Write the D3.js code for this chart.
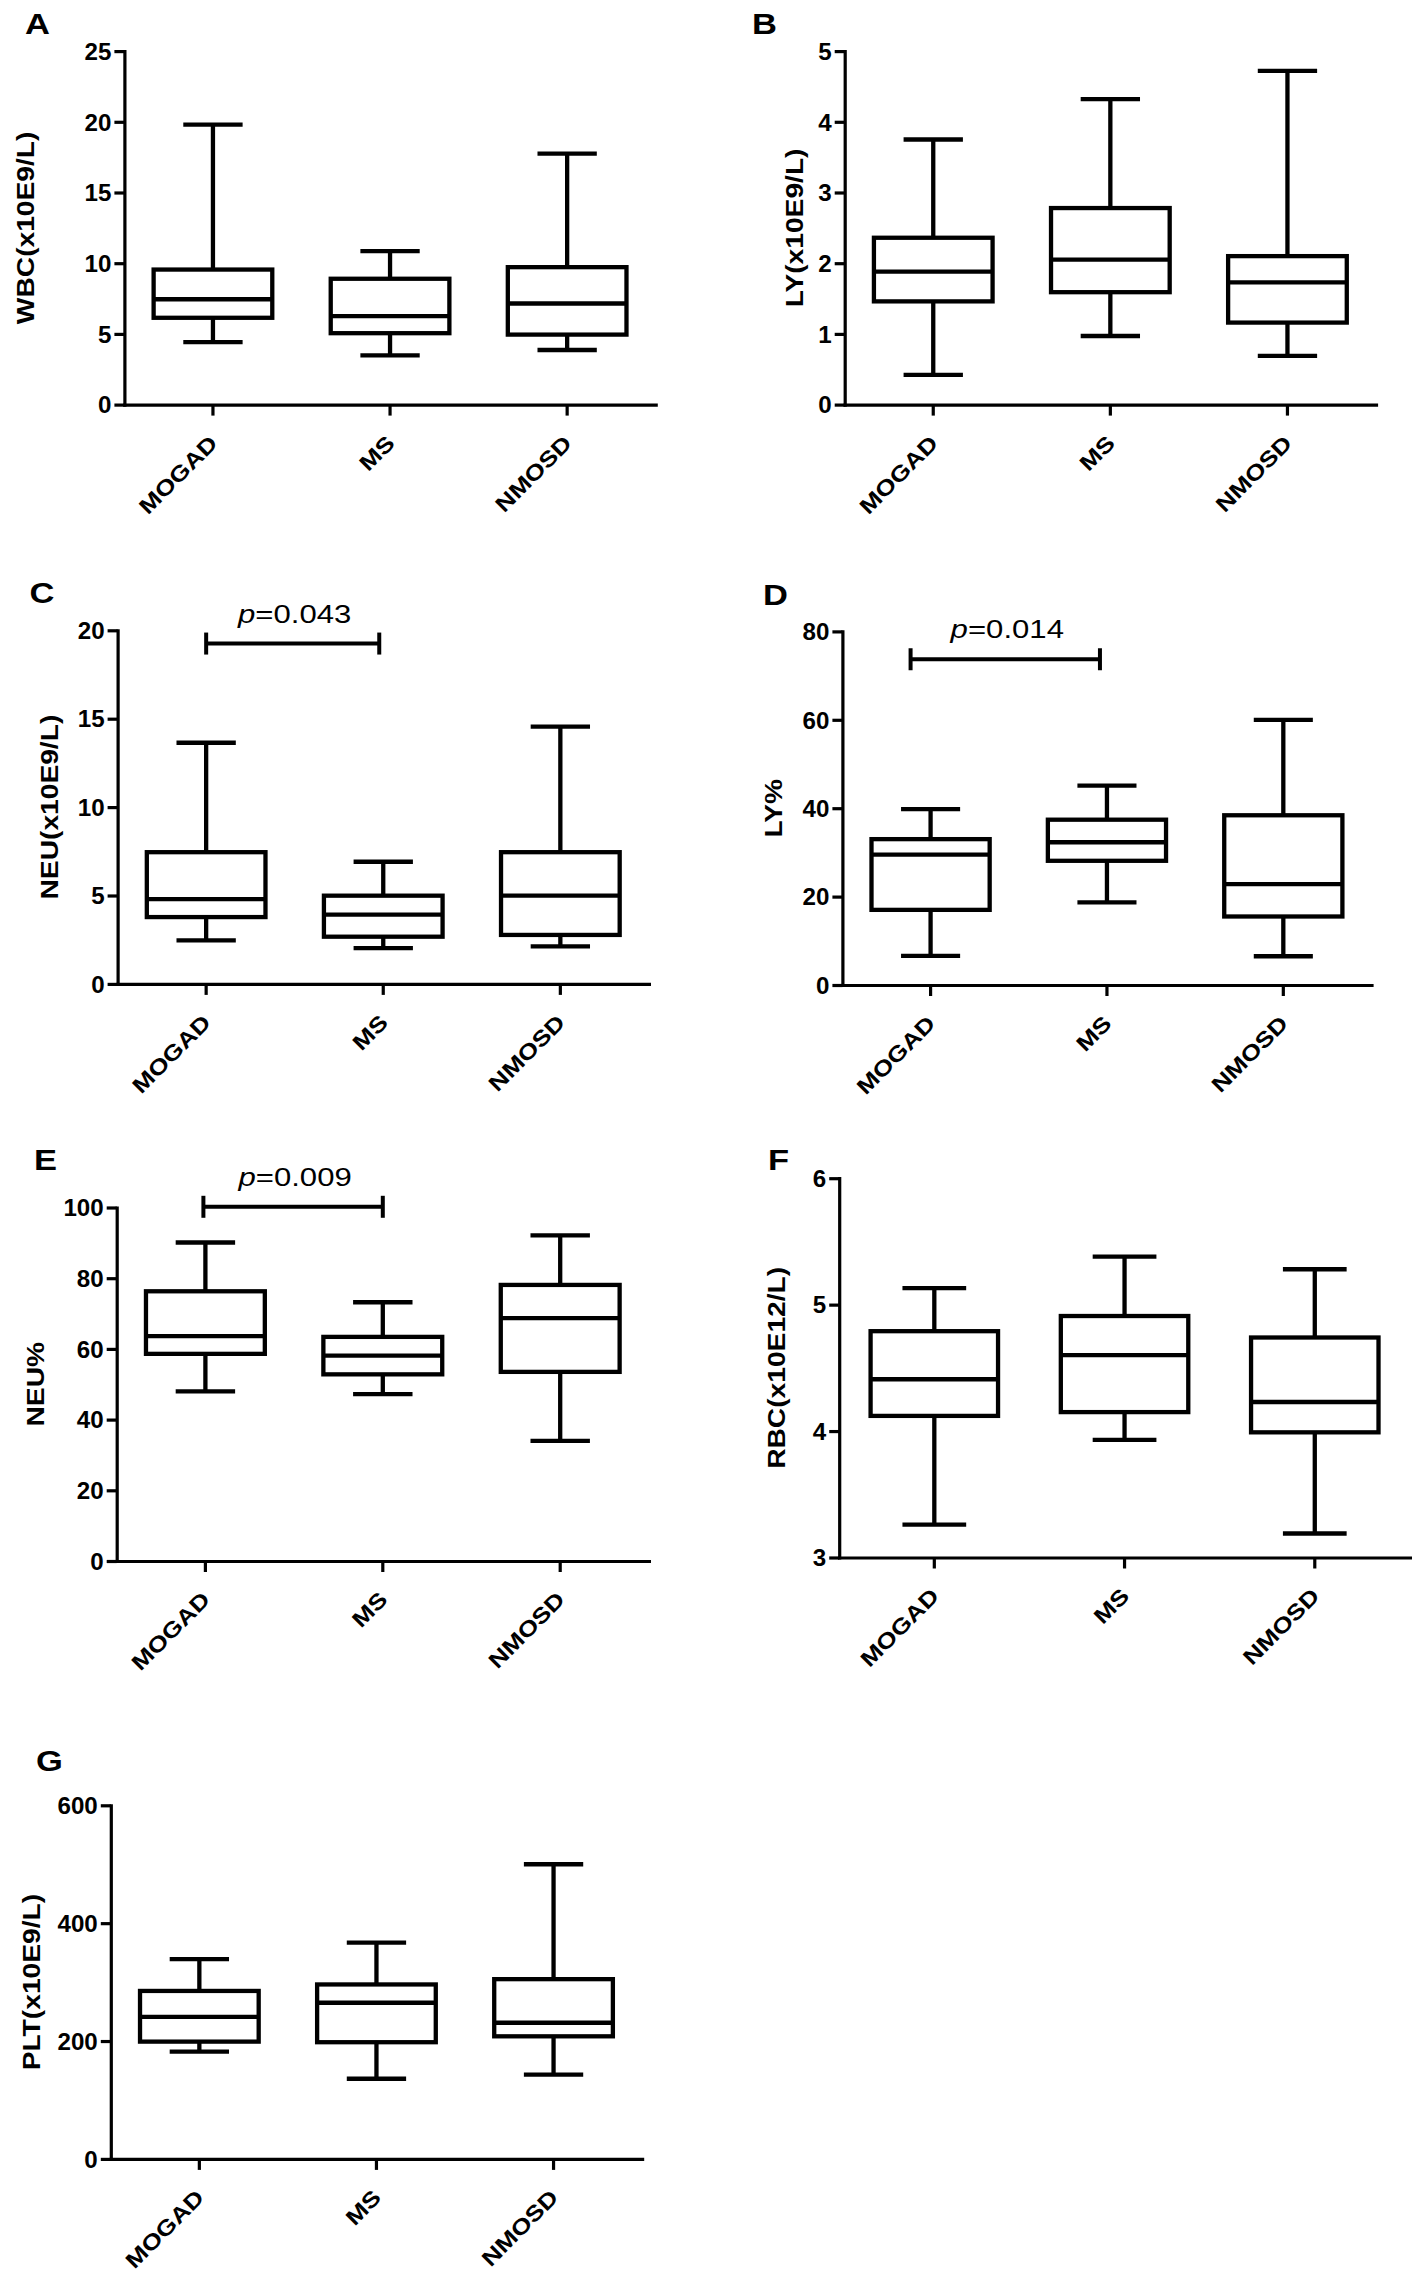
<!DOCTYPE html>
<html>
<head>
<meta charset="utf-8">
<script src="https://cdn.jsdelivr.net/npm/d3@7"></script>
<style>
  body { margin: 0; background: #fff; }
  svg { display: block; font-family: "Liberation Sans", Arial, sans-serif; }
</style>
</head>
<body>
<svg id="fig" width="1418" height="2275"></svg>
<script>
const groups = ["MOGAD", "MS", "NMOSD"];

// five-number summaries per group: [min, q1, median, q3, max]
const wbc    = [[4.42, 6.14, 7.45, 9.55, 19.8], [3.48, 5.05, 6.26, 8.90, 10.86], [3.86, 4.95, 7.15, 9.72, 17.75]];
const ly     = [[0.42, 1.46, 1.88, 2.36, 3.75], [0.97, 1.59, 2.05, 2.78, 4.32], [0.69, 1.16, 1.73, 2.10, 4.72]];
const neu    = [[2.46, 3.78, 4.79, 7.45, 13.64], [2.02, 2.67, 3.92, 4.99, 6.91], [2.12, 2.77, 4.99, 7.45, 14.55]];
const lyPct  = [[6.6, 17.0, 29.5, 33.0, 39.8], [18.7, 28.1, 32.3, 37.4, 45.1], [6.5, 15.5, 22.8, 38.4, 60.0]];
const neuPct = [[48.0, 58.6, 63.6, 76.3, 90.1], [47.2, 52.8, 58.1, 63.4, 73.2], [34.0, 53.5, 68.7, 78.1, 92.1]];
const rbc    = [[3.26, 4.12, 4.41, 4.79, 5.13], [3.93, 4.15, 4.60, 4.91, 5.38], [3.19, 3.99, 4.23, 4.74, 5.28]];
const plt    = [[182, 199, 241, 285, 339], [136, 198, 265, 296, 367], [143, 208, 231, 305, 500]];

// y tick labels
const wbcTicks    = [0, 5, 10, 15, 20, 25];
const lyTicks     = [0, 1, 2, 3, 4, 5];
const neuTicks    = [0, 5, 10, 15, 20];
const lyPctTicks  = [0, 20, 40, 60, 80];
const neuPctTicks = [0, 20, 40, 60, 80, 100];
const rbcTicks    = [3, 4, 5, 6];
const pltTicks    = [0, 200, 400, 600];

// significance brackets: [from, to, level, p]
const neuTest    = ["MOGAD", "MS", 19.25, "0.043"];
const lyPctTest  = ["MOGAD", "MS", 73.7, "0.014"];
const neuPctTest = ["MOGAD", "MS", 100.2, "0.009"];

const panels = [
  { letter: "A", title: "WBC(x10E9/L)", stats: wbc, ticks: wbcTicks,
    left: 124.4, right: 655.7, top: 51.1, bottom: 404.6, titleX: 26, lx: 25, ly: 33.5 },
  { letter: "B", title: "LY(x10E9/L)", stats: ly, ticks: lyTicks,
    left: 844.7, right: 1376, top: 51.1, bottom: 404.6, titleX: 795, lx: 752, ly: 34 },
  { letter: "C", title: "NEU(x10E9/L)", stats: neu, ticks: neuTicks, test: neuTest, shift: [0, -4],
    left: 117.6, right: 648.9, top: 630.3, bottom: 983.9, titleX: 50, lx: 29.4, ly: 603 },
  { letter: "D", title: "LY%", stats: lyPct, ticks: lyPctTicks, test: lyPctTest, shift: [-20, -7],
    left: 842.4, right: 1371.5, top: 631.4, bottom: 985, titleX: 774, lx: 763, ly: 604.6 },
  { letter: "E", title: "NEU%", stats: neuPct, ticks: neuPctTicks, test: neuPctTest, shift: [-2, 0],
    left: 116.7, right: 648.9, top: 1207.5, bottom: 1561, titleX: 36, lx: 34, ly: 1170 },
  { letter: "F", title: "RBC(x10E12/L)", stats: rbc, ticks: rbcTicks,
    left: 839.2, right: 1409.9, top: 1178.2, bottom: 1557.5, titleX: 777, lx: 768, ly: 1170 },
  { letter: "G", title: "PLT(x10E9/L)", stats: plt, ticks: pltTicks,
    left: 110.8, right: 642.1, top: 1805.3, bottom: 2158.9, titleX: 32, lx: 36, ly: 1771 }
];

const svg = d3.select("#fig");
svg.append("rect").attr("width", 1418).attr("height", 2275).attr("fill", "#fff");

const axisW = 3.2;
const boxW = 4.3;

function drawPanel(p) {
  const g = svg.append("g");

  const x = d3.scaleBand().domain(groups).range([p.left, p.right]);
  const y = d3.scaleLinear()
    .domain([p.ticks[0], p.ticks[p.ticks.length - 1]])
    .range([p.bottom, p.top]);

  const bw = x.bandwidth() * 0.67;
  const cx = (k) => x(k) + x.bandwidth() / 2;

  // panel letter
  g.append("text")
    .attr("transform", `translate(${p.lx},${p.ly}) scale(1.15,1)`)
    .attr("font-size", 30)
    .attr("font-weight", "bold")
    .text(p.letter);

  // y title
  g.append("text")
    .attr("transform", `translate(${p.titleX},${(p.top + p.bottom) / 2}) rotate(-90) scale(1.2,1)`)
    .attr("text-anchor", "middle")
    .attr("dy", "0.36em")
    .attr("font-size", 23.5)
    .attr("font-weight", "bold")
    .text(p.title);

  // axes
  const yAxis = g.append("g")
    .attr("transform", `translate(${p.left},0)`)
    .call(d3.axisLeft(y).tickValues(p.ticks).tickSize(10).tickSizeOuter(0).tickFormat(d3.format("d")));

  const xAxis = g.append("g")
    .attr("transform", `translate(0,${p.bottom})`)
    .call(d3.axisBottom(x).tickSize(11).tickSizeOuter(0));

  [yAxis, xAxis].forEach(a => {
    a.attr("font-family", null).attr("font-size", null);
    a.select(".domain").attr("stroke", "#000").attr("stroke-width", axisW).attr("stroke-linecap", "square");
    a.selectAll(".tick line").attr("stroke", "#000").attr("stroke-width", axisW);
  });

  yAxis.selectAll(".tick text")
    .attr("x", 0)
    .attr("dy", "0.36em")
    .attr("transform", "translate(-13,0) scale(1.05,1)")
    .attr("fill", "#000")
    .attr("font-size", 23)
    .attr("font-weight", "bold");

  xAxis.selectAll(".tick text")
    .attr("x", 0).attr("y", 0).attr("dy", 0)
    .attr("text-anchor", "end")
    .attr("transform", "translate(6,40) rotate(-45) scale(1.2,1)")
    .attr("fill", "#000")
    .attr("font-size", 21.8)
    .attr("font-weight", "bold");

  // box plots
  const rows = groups.map((k, i) => ({ key: k, s: p.stats[i] }));
  const box = g.append("g")
    .attr("stroke", "#000")
    .attr("stroke-width", boxW)
    .attr("fill", "none");

  const item = box.selectAll("g").data(rows).join("g");

  item.append("line")
    .attr("x1", d => cx(d.key)).attr("x2", d => cx(d.key))
    .attr("y1", d => y(d.s[0])).attr("y2", d => y(d.s[1]));
  item.append("line")
    .attr("x1", d => cx(d.key)).attr("x2", d => cx(d.key))
    .attr("y1", d => y(d.s[3])).attr("y2", d => y(d.s[4]));
  item.append("line")
    .attr("x1", d => cx(d.key) - bw / 4).attr("x2", d => cx(d.key) + bw / 4)
    .attr("y1", d => y(d.s[0])).attr("y2", d => y(d.s[0]));
  item.append("line")
    .attr("x1", d => cx(d.key) - bw / 4).attr("x2", d => cx(d.key) + bw / 4)
    .attr("y1", d => y(d.s[4])).attr("y2", d => y(d.s[4]));
  item.append("rect")
    .attr("x", d => cx(d.key) - bw / 2)
    .attr("width", bw)
    .attr("y", d => y(d.s[3]))
    .attr("height", d => y(d.s[1]) - y(d.s[3]))
    .attr("fill", "#fff");
  item.append("line")
    .attr("x1", d => cx(d.key) - bw / 2).attr("x2", d => cx(d.key) + bw / 2)
    .attr("y1", d => y(d.s[2])).attr("y2", d => y(d.s[2]));

  // significance bracket
  if (p.test) {
    const [from, to, level, pv] = p.test;
    const x1 = cx(from) + p.shift[0];
    const x2 = cx(to) + p.shift[1];
    const yb = y(level);
    const br = g.append("g").attr("stroke", "#000").attr("stroke-width", 4);
    br.append("line").attr("x1", x1).attr("x2", x2).attr("y1", yb).attr("y2", yb);
    br.append("line").attr("x1", x1).attr("x2", x1).attr("y1", yb - 11).attr("y2", yb + 11);
    br.append("line").attr("x1", x2).attr("x2", x2).attr("y1", yb - 11).attr("y2", yb + 11);

    const t = g.append("text")
      .attr("transform", `translate(${(x1 + x2) / 2 + 2},${yb - 21}) scale(1.22,1)`)
      .attr("text-anchor", "middle")
      .attr("font-size", 25.5);
    t.append("tspan").attr("font-style", "italic").text("p");
    t.append("tspan").text("=" + pv);
  }
}

panels.forEach(drawPanel);
</script>
</body>
</html>
